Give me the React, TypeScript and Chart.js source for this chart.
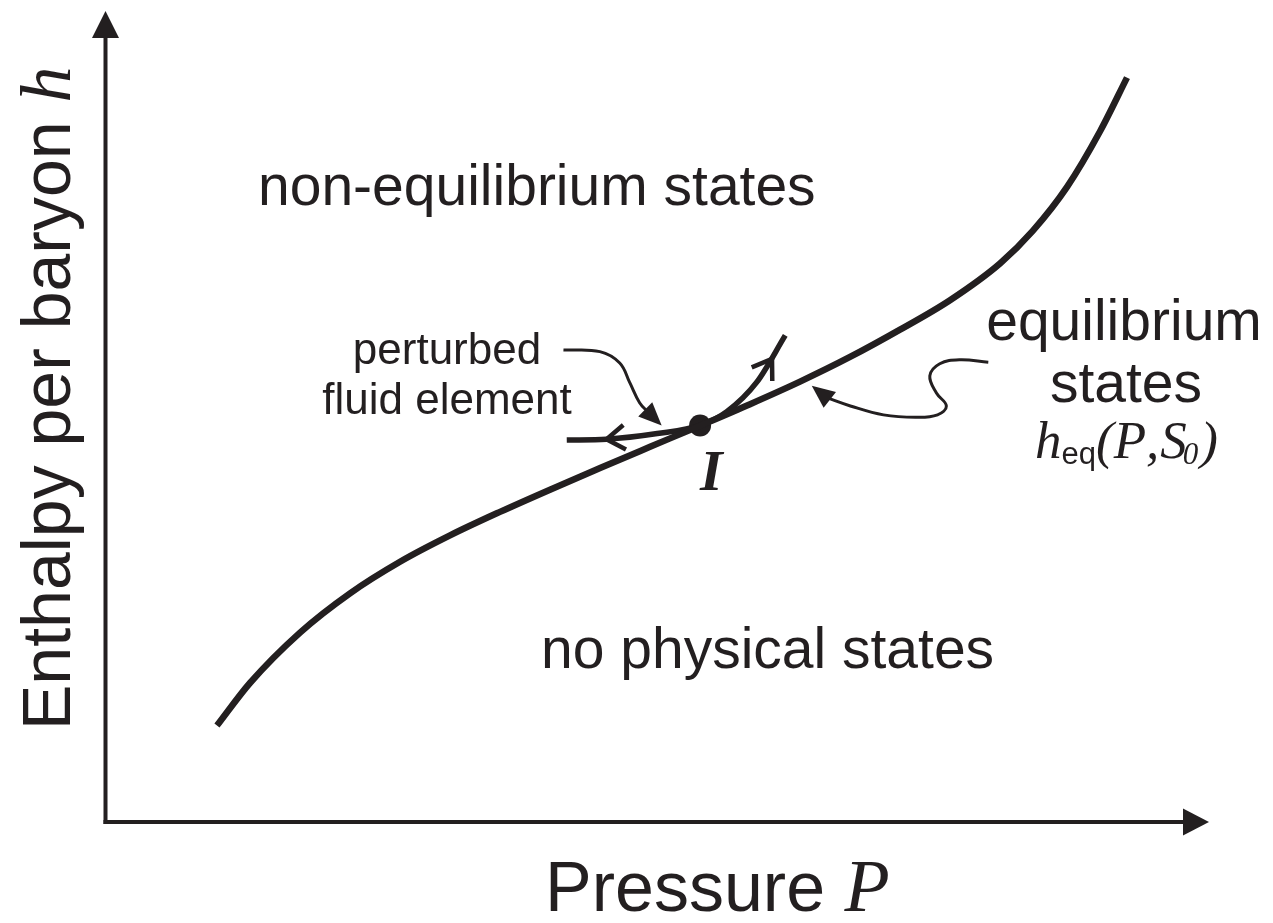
import React, { useEffect, useRef } from "react";
import { Chart, registerables } from "chart.js";

Chart.register(...registerables);

// Equilibrium curve h_eq(P, S0): pressure and enthalpy (schematic units 0..100)
const eqP = [10.1, 13.09, 17.63, 22.16, 26.69, 31.22, 35.75, 40.28, 44.82, 49.35, 53.88, 58.41, 62.94, 67.47, 72.0, 76.53, 81.06, 84.05, 87.14, 90.13, 92.57];
const eqH = [11.89, 17.14, 23.36, 28.2, 32.09, 35.34, 38.24, 40.98, 43.64, 46.26, 48.87, 51.52, 54.3, 57.34, 60.71, 64.34, 68.87, 72.92, 78.31, 85.17, 91.79];

// Perturbed fluid element path through point I
const pertP = [41.8, 45.4, 50.0, 53.88, 56.3, 59.0, 61.6];
const pertH = [47.1, 47.2, 47.9, 48.9, 50.6, 54.2, 60.0];

// Point I
const pointIP = [53.88];
const pointIH = [48.9];

// Chevron arrow marks on the perturbed path (tip and a point behind it)
const chevTipP = [45.4, 60.4];
const chevTipH = [47.2, 57.1];
const chevFromP = [50.0, 59.0];
const chevFromH = [47.9, 54.2];

// Leader from "perturbed fluid element" label
const lead1P = [41.5, 44.8, 46.6, 47.5, 48.4, 49.2];
const lead1H = [58.2, 58.0, 56.6, 54.2, 51.7, 50.5];
const lead1TipP = 50.4;
const lead1TipH = 48.9;

// Leader from "equilibrium states" label
const lead2P = [80.0, 77.4, 75.6, 74.7, 75.3, 76.2, 75.4, 73.4, 70.5, 67.5, 65.4];
const lead2H = [56.7, 57.0, 56.5, 55.0, 52.9, 51.3, 50.2, 49.9, 50.2, 51.3, 52.3];
const lead2TipP = 64.0;
const lead2TipH = 53.8;

// Text
const regionTop = "non-equilibrium states";
const regionBottom = "no physical states";
const eqLabel1 = "equilibrium";
const eqLabel2 = "states";
const pertLabel1 = "perturbed";
const pertLabel2 = "fluid element";
const xTitle = "Pressure ";
const xSym = "P";
const yTitle = "Enthalpy per baryon ";
const ySym = "h";
const pointLabel = "I";

const INK = "#231f20";
const SANS = '"Liberation Sans", Arial, Helvetica, sans-serif';
const SERIF = '"Liberation Serif", "Times New Roman", Times, serif';

const toPts = (xs: number[], ys: number[]) => xs.map((x, i) => ({ x, y: ys[i] }));

function drawSegments(
  ctx: CanvasRenderingContext2D,
  x: number,
  y: number,
  segs: { t: string; f: string; dy?: number; gap?: number }[]
) {
  let cx = x;
  for (const s of segs) {
    ctx.font = s.f;
    cx += s.gap || 0;
    ctx.fillText(s.t, cx, y + (s.dy || 0));
    cx += ctx.measureText(s.t).width;
  }
}

const diagramPlugin = {
  id: "diagram",
  beforeDatasetsDraw(chart: any) {
    const { ctx, chartArea: a } = chart;
    ctx.save();
    ctx.strokeStyle = INK;
    ctx.fillStyle = INK;
    ctx.lineWidth = 4;
    ctx.lineCap = "butt";
    // y axis
    ctx.beginPath();
    ctx.moveTo(a.left, a.bottom + 2);
    ctx.lineTo(a.left, a.top + 24);
    ctx.stroke();
    ctx.beginPath();
    ctx.moveTo(a.left, a.top);
    ctx.lineTo(a.left - 13.5, a.top + 27);
    ctx.lineTo(a.left + 13.5, a.top + 27);
    ctx.closePath();
    ctx.fill();
    // x axis
    ctx.beginPath();
    ctx.moveTo(a.left - 2, a.bottom);
    ctx.lineTo(a.right - 24, a.bottom);
    ctx.stroke();
    ctx.beginPath();
    ctx.moveTo(a.right, a.bottom);
    ctx.lineTo(a.right - 26, a.bottom - 13.5);
    ctx.lineTo(a.right - 26, a.bottom + 13.5);
    ctx.closePath();
    ctx.fill();
    ctx.restore();
  },
  afterDatasetsDraw(chart: any) {
    const { ctx } = chart;
    const xs = chart.scales.x;
    const ys = chart.scales.y;
    const px = (v: number) => xs.getPixelForValue(v);
    const py = (v: number) => ys.getPixelForValue(v);
    ctx.save();
    ctx.strokeStyle = INK;
    ctx.fillStyle = INK;

    // filled arrowheads on leaders
    const filledHead = (fx: number, fy: number, tx: number, ty: number, len: number, hw: number) => {
      const ang = Math.atan2(ty - fy, tx - fx);
      const bx = tx - Math.cos(ang) * len;
      const by = ty - Math.sin(ang) * len;
      ctx.beginPath();
      ctx.moveTo(tx, ty);
      ctx.lineTo(bx + Math.sin(ang) * hw, by - Math.cos(ang) * hw);
      ctx.lineTo(bx - Math.sin(ang) * hw, by + Math.cos(ang) * hw);
      ctx.closePath();
      ctx.fill();
    };
    filledHead(
      px(lead1P[lead1P.length - 1]), py(lead1H[lead1H.length - 1]),
      px(lead1TipP), py(lead1TipH), 23, 10
    );
    filledHead(
      px(lead2P[lead2P.length - 1]), py(lead2H[lead2H.length - 1]),
      px(lead2TipP), py(lead2TipH), 23, 10
    );

    // open chevrons on perturbed path
    ctx.lineWidth = 4.5;
    ctx.lineCap = "butt";
    ctx.lineJoin = "miter";
    for (let i = 0; i < chevTipP.length; i++) {
      const tx = px(chevTipP[i]);
      const ty = py(chevTipH[i]);
      const fx = px(chevFromP[i]);
      const fy = py(chevFromH[i]);
      const back = Math.atan2(fy - ty, fx - tx);
      const L = 22;
      const da = (34 * Math.PI) / 180;
      ctx.beginPath();
      ctx.moveTo(tx + Math.cos(back + da) * L, ty + Math.sin(back + da) * L);
      ctx.lineTo(tx, ty);
      ctx.lineTo(tx + Math.cos(back - da) * L, ty + Math.sin(back - da) * L);
      ctx.stroke();
    }

    // texts
    ctx.textBaseline = "alphabetic";
    ctx.textAlign = "left";
    ctx.font = `57px ${SANS}`;
    ctx.fillText(regionTop, 258, 205);
    ctx.fillText(regionBottom, 541, 668);
    ctx.textAlign = "center";
    ctx.fillText(eqLabel1, 1124, 340);
    ctx.fillText(eqLabel2, 1126, 402);
    ctx.font = `44px ${SANS}`;
    ctx.fillText(pertLabel1, 447, 364);
    ctx.fillText(pertLabel2, 447, 414);

    ctx.textAlign = "left";
    drawSegments(ctx, 1035, 458, [
      { t: "h", f: `italic 53px ${SERIF}` },
      { t: "eq", f: `31px ${SANS}`, dy: 6 },
      { t: "(", f: `italic 53px ${SERIF}` },
      { t: "P", f: `italic 53px ${SERIF}` },
      { t: ",", f: `italic 53px ${SERIF}` },
      { t: "S", f: `italic 53px ${SERIF}`, gap: 1 },
      { t: "0", f: `italic 31px ${SERIF}`, dy: 6, gap: -4 },
      { t: ")", f: `italic 53px ${SERIF}`, gap: 2 },
    ]);

    ctx.font = `bold italic 58px ${SERIF}`;
    ctx.fillText(pointLabel, 700, 490);

    drawSegments(ctx, 545, 911, [
      { t: xTitle, f: `70px ${SANS}` },
      { t: xSym, f: `italic 74px ${SERIF}` },
    ]);

    ctx.save();
    ctx.translate(70, 730);
    ctx.rotate(-Math.PI / 2);
    drawSegments(ctx, 0, 0, [
      { t: yTitle, f: `68px ${SANS}` },
      { t: ySym, f: `italic 72px ${SERIF}` },
    ]);
    ctx.restore();

    ctx.restore();
  },
};

export default function App() {
  const ref = useRef<HTMLCanvasElement | null>(null);

  useEffect(() => {
    if (!ref.current) return;
    const lineDs = (data: any[], width: number, mono: boolean) => ({
      data,
      showLine: true,
      borderColor: INK,
      backgroundColor: INK,
      borderWidth: width,
      pointRadius: 0,
      pointHoverRadius: 0,
      tension: 0.4,
      cubicInterpolationMode: mono ? ("monotone" as const) : ("default" as const),
      fill: false,
      borderCapStyle: "butt" as const,
      clip: false as const,
    });
    const chart = new Chart(ref.current, {
      type: "scatter",
      data: {
        datasets: [
          lineDs(toPts(eqP, eqH), 6.5, true),
          lineDs(toPts(pertP, pertH), 5.5, true),
          lineDs(toPts(lead1P, lead1H), 3, false),
          lineDs(toPts(lead2P, lead2H), 3, false),
          {
            data: toPts(pointIP, pointIH),
            showLine: false,
            pointRadius: 11,
            pointHoverRadius: 11,
            pointBackgroundColor: INK,
            pointBorderColor: INK,
            borderWidth: 0,
            clip: false as const,
          },
        ],
      },
      options: {
        responsive: false,
        animation: false,
        devicePixelRatio: 1,
        events: [],
        layout: { padding: { left: 105.5, right: 64, top: 6, bottom: 101 } },
        plugins: { legend: { display: false }, tooltip: { enabled: false }, title: { display: false } },
        scales: {
          x: { type: "linear", min: 0, max: 100, display: false },
          y: { type: "linear", min: 0, max: 100, display: false },
        },
      },
      plugins: [diagramPlugin],
    });
    return () => chart.destroy();
  }, []);

  return (
    <div style={{ position: "fixed", left: 0, top: 0, width: 1273, height: 923, background: "#fff" }}>
      <canvas ref={ref} width={1273} height={923} style={{ display: "block", width: 1273, height: 923 }} />
    </div>
  );
}
